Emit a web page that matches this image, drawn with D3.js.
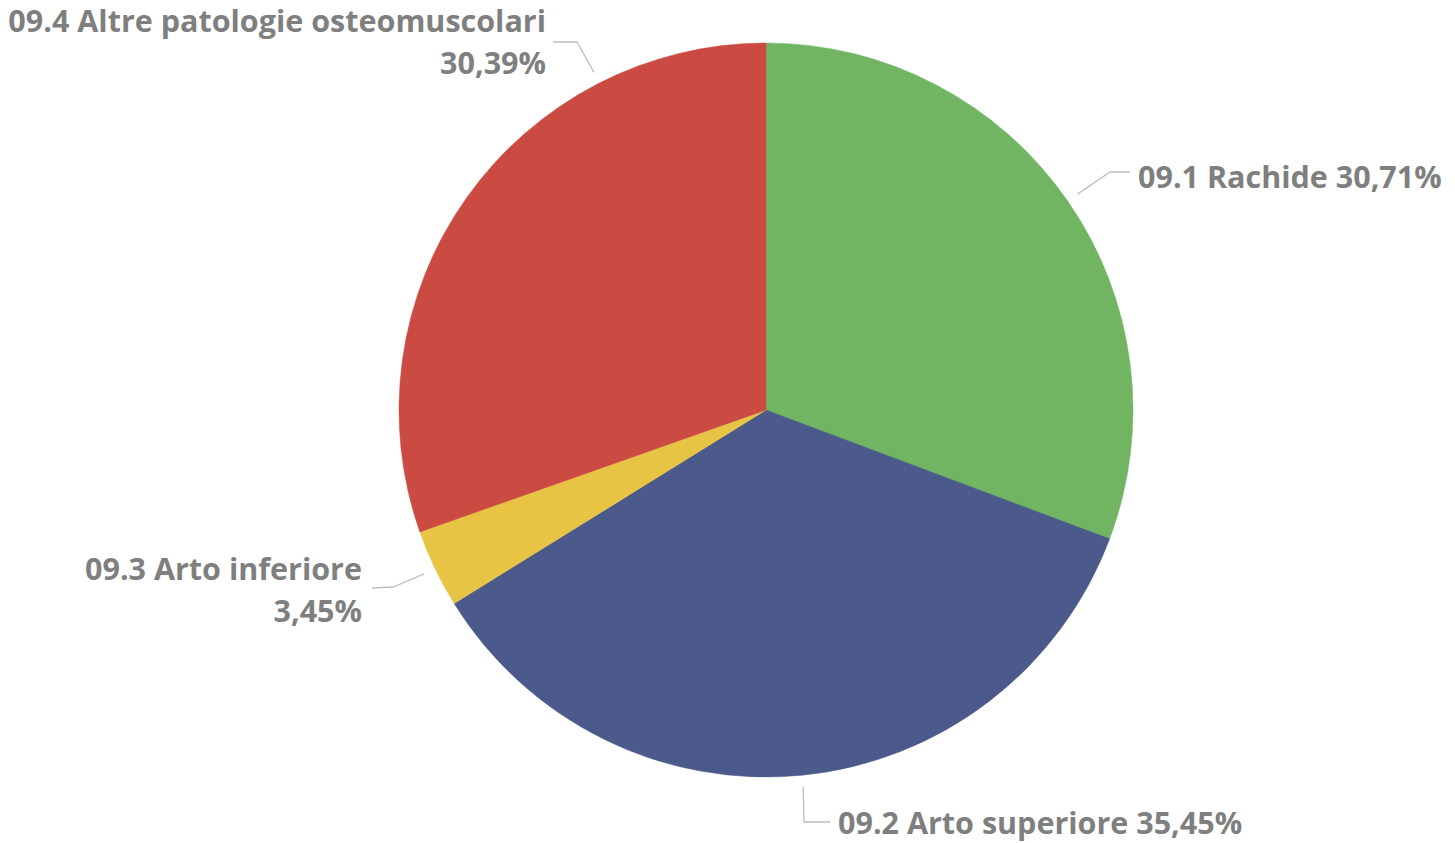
<!DOCTYPE html>
<html>
<head>
<meta charset="utf-8">
<script src="https://cdn.jsdelivr.net/npm/d3@7"></script>
<style>
html,body{margin:0;padding:0;background:#fff;}
svg{display:block;}
</style>
</head>
<body>
<svg id="chart" width="1455" height="843"></svg>
<script>
// ---- data ----
const categories = ["09.1 Rachide", "09.2 Arto superiore", "09.3 Arto inferiore", "09.4 Altre patologie osteomuscolari"];
const values = [30.71, 35.45, 3.45, 30.39];
const valueLabels = ["30,71%", "35,45%", "3,45%", "30,39%"];
const colors = ["#71B562", "#4B5A8B", "#E8C444", "#CB4B43"];

// ---- layout (positions/styles only) ----
const W = 1455, H = 843;
const cx = 766, cy = 410, R = 367;
const labelLayout = [
  {attach: null, elbow: [1110, 172], end: [1130, 172], text: [1138, 188], anchor: "start", lines: 1},
  {attach: null, elbow: [804, 822], end: [830, 822], text: [838, 834], anchor: "start", lines: 1},
  {attach: null, elbow: [393, 587], end: [372, 588], text: [362, 580], anchor: "end", lines: 2},
  {attach: 333, elbow: [577, 42], end: [553, 42], text: [546, 32], anchor: "end", lines: 2}
];

const svg = d3.select("#chart");
const g = svg.append("g").attr("transform", `translate(${cx},${cy})`);

const pie = d3.pie().sort(null).value(d => d)(values);
const arc = d3.arc().innerRadius(0).outerRadius(R);

g.selectAll("path.slice").data(pie).join("path")
  .attr("class", "slice")
  .attr("d", arc)
  .attr("fill", (d, i) => colors[i])
  .attr("stroke", (d, i) => colors[i])
  .attr("stroke-width", 0.5);

const textColor = "#7F7F7F";
const font = "'Open Sans', 'Noto Sans', sans-serif";

pie.forEach((d, i) => {
  const L = labelLayout[i];
  const ang = L.attach != null ? L.attach * Math.PI / 180 : (d.startAngle + d.endAngle) / 2;
  const r0 = R + 12;
  const p0 = [cx + r0 * Math.sin(ang), cy - r0 * Math.cos(ang)];
  svg.append("polyline")
    .attr("points", [p0, L.elbow, L.end].map(p => p.join(",")).join(" "))
    .attr("fill", "none")
    .attr("stroke", "#BFBFBF")
    .attr("stroke-width", 1.3);

  const t = svg.append("text")
    .attr("x", L.text[0]).attr("y", L.text[1])
    .attr("text-anchor", L.anchor)
    .attr("font-family", font)
    .attr("font-weight", 700)
    .attr("font-size", 30.5)
    .attr("fill", textColor);
  if (L.lines === 1) {
    t.text(categories[i] + " " + valueLabels[i]);
  } else {
    t.append("tspan").attr("x", L.text[0]).text(categories[i]);
    t.append("tspan").attr("x", L.text[0]).attr("dy", 42).text(valueLabels[i]);
  }
});
</script>
</body>
</html>
